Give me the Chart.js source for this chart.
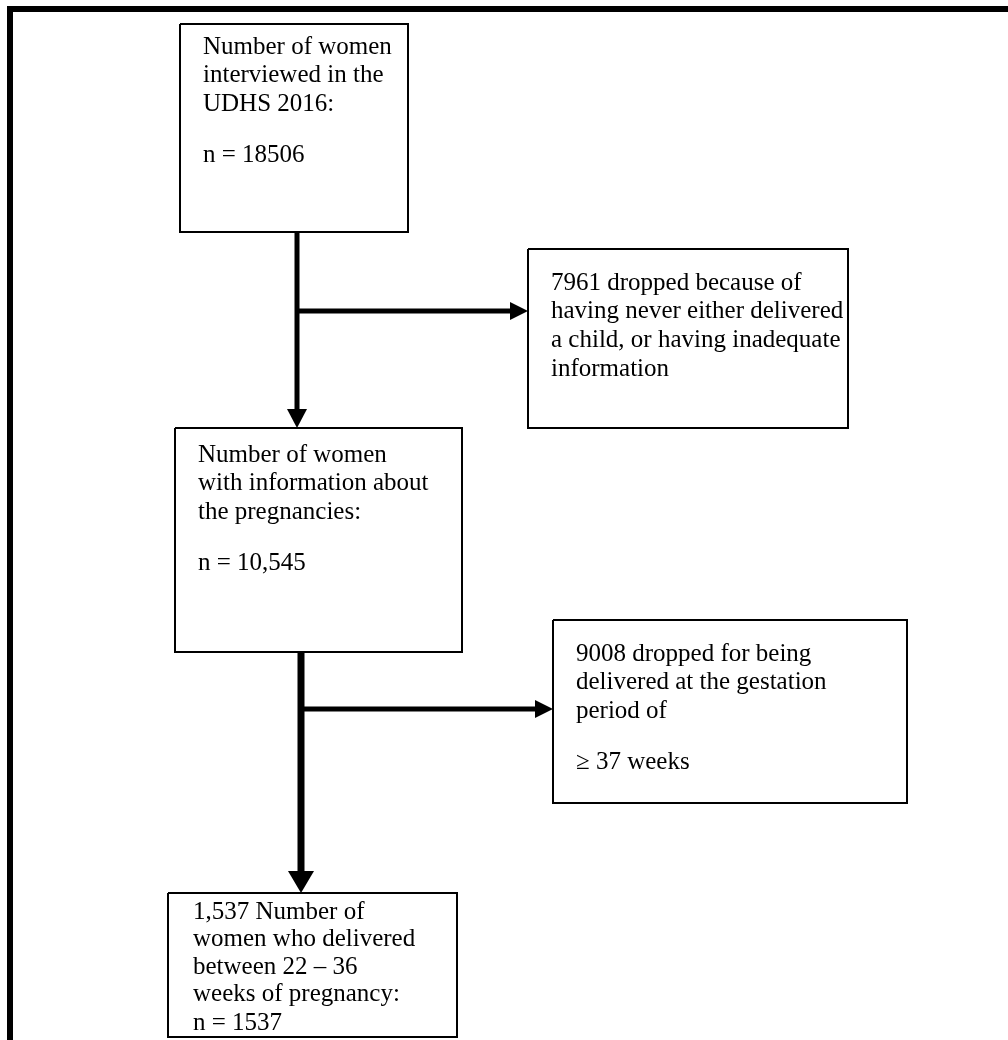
<!DOCTYPE html>
<html>
<head>
<meta charset="utf-8">
<script src="https://cdn.jsdelivr.net/npm/chart.js@4.4.1/dist/chart.umd.min.js"></script>
<style>
html,body{margin:0;padding:0;background:#ffffff;}
#wrap{width:1008px;height:1040px;position:relative;}
</style>
</head>
<body>
<div id="wrap"><canvas id="c"></canvas></div>
<script>
// ---- content (data) ----
const stepCounts = [18506, 7961, 10545, 9008, 1537];
const stepTexts = [
  ["Number of women", "interviewed in the", "UDHS 2016:", "", "n = 18506"],
  ["7961 dropped because of", "having never either delivered", "a child, or having inadequate", "information"],
  ["Number of women", "with information about", "the pregnancies:", "", "n = 10,545"],
  ["9008 dropped for being", "delivered at the gestation", "period of", "", "\u2265 37 weeks"],
  ["1,537 Number of", "women who delivered", "between 22 \u2013 36", "weeks of pregnancy:", "", "n = 1537"]
];
// flow links: from step -> to step
const flowLinks = [[0, 2], [0, 1], [2, 4], [2, 3]];

// ---- layout (positions in a 1008 x 1040 data space) ----
const boxRects = [
  [180, 24, 408, 232],
  [528, 249, 848, 428],
  [175, 428, 462, 652],
  [553, 620, 907, 803],
  [168, 893, 457, 1037]
];
const textAnchors = [[203, 47], [551, 283], [198, 455], [576, 654], [193, 912]];
const lineGap = [28.7, 28.7, 28.7, 28.7, 27.6];
const paraGap = [22, 22, 22, 22, 1];
// arrows: [x0,y0,x1,y1,lineWidth,headLen,headHalfWidth]
const arrowGeom = [
  [297, 232, 297, 428, 5, 19, 10],
  [297, 311, 528, 311, 5, 18, 9],
  [301, 652, 301, 893, 7, 22, 13],
  [301, 709, 553, 709, 5, 18, 9]
];
const frameLine = [[10, 1040], [10, 9], [1008, 9]];

// ---- build datasets ----
const datasets = [];
boxRects.forEach((r, i) => {
  datasets.push({
    label: 'box' + i,
    data: [{x:r[0],y:r[1]},{x:r[2],y:r[1]},{x:r[2],y:r[3]},{x:r[0],y:r[3]},{x:r[0],y:r[1]}],
    showLine: true, borderColor: '#000', borderWidth: 2, pointRadius: 0,
    backgroundColor: 'rgba(0,0,0,0)', fill: false, tension: 0, clip: false,
    borderJoinStyle: 'miter'
  });
});
arrowGeom.forEach((a, i) => {
  const dx = a[2]-a[0], dy = a[3]-a[1];
  const len = Math.hypot(dx, dy);
  const ex = a[2] - dx/len*(a[5]-1), ey = a[3] - dy/len*(a[5]-1);
  datasets.push({
    label: 'arrow' + i,
    data: [{x:a[0],y:a[1]},{x:ex,y:ey}],
    showLine: true, borderColor: '#000', borderWidth: a[4], pointRadius: 0,
    fill: false, clip: false, borderCapStyle: 'butt'
  });
});
datasets.push({
  label: 'frame',
  data: frameLine.map(p => ({x:p[0], y:p[1]})),
  showLine: true, borderColor: '#000', borderWidth: 6, pointRadius: 0,
  fill: false, clip: false, borderJoinStyle: 'miter'
});

const flowPlugin = {
  id: 'flow',
  afterDatasetsDraw(chart) {
    const ctx = chart.ctx;
    const xs = chart.scales.x, ys = chart.scales.y;
    const X = v => xs.getPixelForValue(v), Y = v => ys.getPixelForValue(v);
    ctx.save();
    ctx.fillStyle = '#000';
    arrowGeom.forEach(a => {
      const dx = a[2]-a[0], dy = a[3]-a[1];
      const len = Math.hypot(dx, dy);
      const ux = dx/len, uy = dy/len;
      const bx = a[2]-ux*a[5], by = a[3]-uy*a[5];
      ctx.beginPath();
      ctx.moveTo(X(a[2]), Y(a[3]));
      ctx.lineTo(X(bx - uy*a[6]), Y(by + ux*a[6]));
      ctx.lineTo(X(bx + uy*a[6]), Y(by - ux*a[6]));
      ctx.closePath();
      ctx.fill();
    });
    ctx.font = '25px "Liberation Serif", "Times New Roman", serif';
    ctx.textBaseline = 'middle';
    ctx.textAlign = 'left';
    stepTexts.forEach((lines, i) => {
      let y = textAnchors[i][1];
      const x = textAnchors[i][0];
      lines.forEach((t) => {
        if (t === '') { y += paraGap[i]; return; }
        ctx.fillText(t, X(x), Y(y));
        y += lineGap[i];
      });
    });
    ctx.restore();
  }
};

new Chart(document.getElementById('c'), {
  type: 'scatter',
  data: { datasets },
  options: {
    responsive: true,
    maintainAspectRatio: false,
    animation: false,
    events: [],
    layout: { padding: 0 },
    scales: {
      x: { type: 'linear', min: 0, max: 1008, display: false },
      y: { type: 'linear', min: 0, max: 1040, reverse: true, display: false }
    },
    plugins: { legend: { display: false }, tooltip: { enabled: false } }
  },
  plugins: [flowPlugin]
});
</script>
</body>
</html>
